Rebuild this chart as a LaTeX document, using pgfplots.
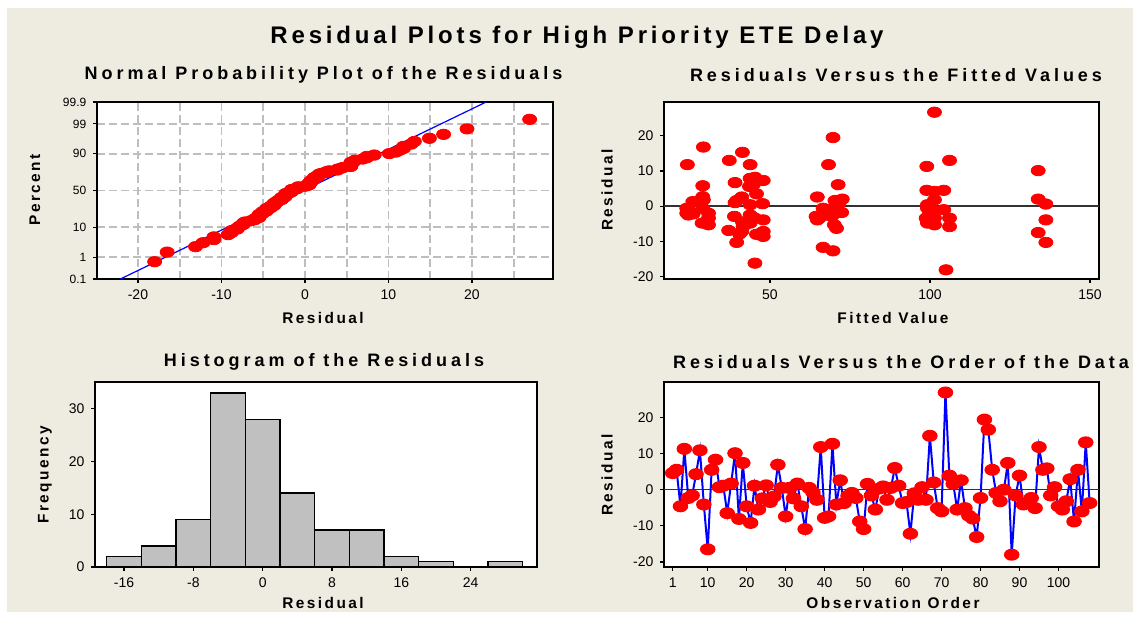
\documentclass[border=0pt]{standalone}
\usepackage{pgfplots}
\pgfplotsset{compat=1.18}
\usepackage{fontspec}
\setmainfont{Liberation Sans}
\newfontfamily\bigttl[LetterSpace=16]{Liberation Sans}
\newfontfamily\subttl[LetterSpace=22]{Liberation Sans}
\newfontfamily\labfont[LetterSpace=16]{Liberation Sans}
\definecolor{mtbbg}{RGB}{238,235,224}
\definecolor{gridgray}{RGB}{190,190,190}
\definecolor{histgray}{RGB}{192,192,192}
\definecolor{zeroline}{RGB}{50,50,50}
\definecolor{mred}{RGB}{255,0,0}
\definecolor{mblue}{RGB}{0,0,255}

\pgfplotsset{
  mtb/.style={
    scale only axis,
    axis line style={line width=0.8pt, black},
    axis background/.style={fill=white},
    tick align=outside, tick pos=left,
    major tick length=1.8pt, minor tick length=0pt,
    tick style={black, line width=0.6pt},
    tick label style={font=\fontsize{7}{8}\selectfont},
    /pgf/number format/assume math mode=true,
  },
  dots/.style={only marks, mark=*, mark size=2.6pt,
    mark options={xscale=1.35, fill=mred, draw=mred}},
}

\begin{document}
\begin{tikzpicture}
\fill[white] (0pt,0pt) rectangle (570pt,309pt);
\fill[mtbbg] (3.5pt,3pt) rectangle (566.5pt,305pt);

\node[font=\bigttl\bfseries\fontsize{12}{14}\selectfont] at (288.5pt,290.5pt) {Residual Plots for High Priority ETE Delay};
\node[font=\subttl\bfseries\fontsize{9}{11}\selectfont] at (161.75pt,271.5pt) {Normal Probability Plot of the Residuals};
\node[font=\subttl\bfseries\fontsize{9}{11}\selectfont] at (448pt,271.5pt) {Residuals Versus the Fitted Values};
\node[font=\subttl\bfseries\fontsize{9}{11}\selectfont] at (162pt,128pt) {Histogram of the Residuals};
\node[font=\subttl\bfseries\fontsize{9}{11}\selectfont] at (450.5pt,128pt) {Residuals Versus the Order of the Data};

\node[font=\labfont\bfseries\fontsize{7.7}{9}\selectfont] at (161.5pt,150pt) {Residual};
\node[font=\labfont\bfseries\fontsize{7.7}{9}\selectfont] at (446.5pt,150pt) {Fitted Value};
\node[font=\labfont\bfseries\fontsize{7.7}{9}\selectfont] at (161.5pt,7.5pt) {Residual};
\node[font=\labfont\bfseries\fontsize{7.7}{9}\selectfont] at (446.5pt,7.5pt) {Observation Order};
\node[rotate=90, font=\labfont\bfseries\fontsize{7.7}{9}\selectfont] at (17.5pt,214pt) {Percent};
\node[rotate=90, font=\labfont\bfseries\fontsize{7.7}{9}\selectfont] at (303.5pt,214pt) {Residual};
\node[rotate=90, font=\labfont\bfseries\fontsize{7.7}{9}\selectfont] at (22.5pt,71.5pt) {Frequency};
\node[rotate=90, font=\labfont\bfseries\fontsize{7.7}{9}\selectfont] at (303.5pt,71.5pt) {Residual};

% normal probability plot (y in normal scores)
\begin{axis}[mtb, at={(48.5pt,169.5pt)}, anchor=south west,
  width=228pt, height=88.5pt,
  xmin=-24.9, xmax=29.7, ymin=-3.090, ymax=3.090,
  xtick={-20,-10,0,10,20}, minor xtick={-15,-5,5,15,25},
  ytick={-3.090,-2.326,-1.2816,0,1.2816,2.326,3.090},
  yticklabels={0.1,1,10,50,90,99,99.9},
  yticklabel style={font=\fontsize{6}{7}\selectfont},
  grid=both,
  major grid style={gridgray, line width=0.9pt, dash pattern=on 4pt off 2pt},
  minor grid style={gridgray, line width=0.9pt, dash pattern=on 4pt off 2pt}]
\addplot[mblue, line width=0.6pt] coordinates {(-22.1,-3.09) (21.7,3.09)};
\addplot[dots] coordinates {
(-18.0,-2.486) (-16.5,-2.152) (-13.1,-1.961) (-12.2,-1.823) (-10.9,-1.713) (-10.9,-1.620)
(-9.2,-1.540) (-8.8,-1.468) (-8.8,-1.403) (-8.1,-1.344) (-8.0,-1.289) (-7.8,-1.238)
(-7.4,-1.189) (-7.4,-1.144) (-7.2,-1.100) (-6.5,-1.059) (-6.0,-1.019) (-6.0,-0.981)
(-5.5,-0.944) (-5.5,-0.909) (-5.5,-0.874) (-5.5,-0.841) (-5.1,-0.808) (-5.1,-0.777)
(-5.1,-0.746) (-4.6,-0.716) (-4.6,-0.686) (-4.6,-0.657) (-4.6,-0.629) (-4.1,-0.601)
(-4.1,-0.573) (-4.1,-0.546) (-3.7,-0.520) (-3.7,-0.493) (-3.7,-0.467) (-3.7,-0.442)
(-3.4,-0.416) (-3.4,-0.391) (-3.2,-0.366) (-3.2,-0.342) (-2.8,-0.317) (-2.8,-0.293)
(-2.8,-0.269) (-2.8,-0.245) (-2.4,-0.222) (-2.4,-0.198) (-2.3,-0.174) (-2.3,-0.151)
(-2.3,-0.128) (-2.3,-0.104) (-1.9,-0.081) (-1.7,-0.058) (-1.6,-0.035) (-1.6,-0.012)
(-1.6,0.012) (-1.6,0.035) (-1.0,0.058) (-0.9,0.081) (-0.9,0.104) (-0.8,0.128)
(0.0,0.151) (0.3,0.174) (0.5,0.198) (0.5,0.222) (0.5,0.245) (0.5,0.269)
(0.7,0.293) (0.7,0.317) (0.7,0.342) (0.9,0.366) (1.1,0.391) (1.1,0.416)
(1.1,0.442) (1.2,0.467) (1.6,0.493) (1.6,0.520) (1.7,0.546) (1.7,0.573)
(2.0,0.601) (2.6,0.629) (2.6,0.657) (2.9,0.686) (3.9,0.716) (3.9,0.746)
(4.3,0.777) (4.6,0.808) (5.5,0.841) (5.5,0.874) (5.5,0.909) (5.5,0.944)
(5.5,0.981) (5.9,1.019) (6.0,1.059) (6.9,1.100) (7.4,1.144) (7.4,1.189)
(8.3,1.238) (10.1,1.289) (10.9,1.344) (11.3,1.403) (11.8,1.468) (11.8,1.540)
(12.7,1.620) (13.1,1.713) (14.9,1.823) (16.6,1.961) (19.4,2.152) (26.9,2.486)};
\end{axis}

% residuals versus fitted values
\begin{axis}[mtb, at={(332pt,169.5pt)}, anchor=south west,
  width=217.5pt, height=88.5pt,
  xmin=16.9, xmax=152.8, ymin=-20.7, ymax=29.6,
  xtick={50,100,150}, ytick={-20,-10,0,10,20}]
\addplot[zeroline, line width=0.7pt] coordinates {(16.9,0) (152.8,0)};
\addplot[dots] coordinates {
(24.2,11.8) (29.2,16.8) (29.0,5.8) (29.0,2.7) (29.2,1.8) (25.9,1.3) (24.0,-0.6)
(24.0,-2.0) (24.5,-2.5) (26.0,-2.2) (29.0,-0.6) (30.8,-2.0) (30.8,-3.4) (28.8,-4.8)
(30.8,-5.3) (25.0,-1.5)
(37.3,13.0) (41.4,15.3) (43.8,11.8) (39.1,6.7) (45.3,8.2) (43.8,7.9) (47.9,7.3)
(44.8,6.1) (43.6,5.6) (45.8,3.5) (41.2,2.6) (39.6,1.6) (39.1,1.0) (47.7,0.7)
(43.8,0.4) (38.9,-2.9) (43.8,-2.5) (45.3,-3.4) (47.9,-3.9) (41.4,-4.5) (41.6,-5.8)
(43.8,-4.8) (37.1,-6.9) (41.2,-7.2) (40.5,-7.9) (45.8,-8.0) (47.9,-7.2) (47.9,-8.6)
(39.6,-10.3) (45.3,-16.2)
(69.7,19.5) (68.3,11.8) (71.3,6.1) (64.8,2.6) (70.3,1.6) (72.6,2.0) (71.6,0.9)
(66.6,-0.6) (68.7,-0.9) (64.4,-2.9) (65.4,-3.4) (67.5,-2.5) (70.1,-2.0) (72.4,-1.8)
(70.1,-5.3) (70.8,-6.3) (66.6,-11.7) (69.7,-12.7) (64.8,-3.9) (69.3,-2.9)
(101.4,26.7) (99.0,11.3) (106.1,13.0) (99.0,4.5) (101.4,4.2) (104.3,4.5) (101.4,1.8)
(99.2,0.4) (99.2,-0.6) (100.8,-1.0) (104.3,-1.0) (98.8,-3.4) (101.4,-3.4) (106.1,-3.4)
(99.2,-4.8) (101.4,-5.3) (106.1,-5.8) (99.8,-2.2) (105.0,-18.1)
(133.8,10.1) (133.8,2.0) (136.2,0.6) (136.2,-3.9) (133.8,-7.5) (136.2,-10.3)};
\end{axis}

% histogram
\begin{axis}[mtb, at={(47.5pt,25.5pt)}, anchor=south west,
  width=221pt, height=92.5pt,
  xmin=-19.35, xmax=31.66, ymin=0, ymax=35.1,
  xtick={-16,-8,0,8,16,24}, ytick={0,10,20,30}]
\addplot[ybar interval, fill=histgray, draw=black, line width=0.75pt] coordinates {
(-18,2) (-14,4) (-10,9) (-6,33) (-2,28) (2,14) (6,7) (10,7) (14,2) (18,1) (22,0) (26,1) (30,1)};
\end{axis}

% residuals versus order
\begin{axis}[mtb, at={(332pt,25.5pt)}, anchor=south west,
  width=217.5pt, height=92.5pt,
  xmin=-1.22, xmax=110.4, ymin=-21.4, ymax=29.8,
  xtick={1,10,20,30,40,50,60,70,80,90,100}, ytick={-20,-10,0,10,20}]
\addplot[zeroline, line width=0.7pt] coordinates {(-1.22,0) (110.4,0)};
\addplot[mblue, line width=1pt, mark=*, mark size=2.5pt,
  mark options={xscale=1.35, fill=mred, draw=mred}] coordinates {
(1,4.6) (2,5.5) (3,-4.6) (4,11.3) (5,-2.3) (6,-1.6) (7,4.3) (8,10.9) (9,-4.1) (10,-16.5)
(11,5.5) (12,8.3) (13,0.7) (14,1.1) (15,-6.5) (16,1.7) (17,10.1) (18,-8.1) (19,7.4) (20,-4.6)
(21,-9.2) (22,1.1) (23,-5.5) (24,-2.4) (25,1.2) (26,-3.4) (27,-1.9) (28,6.9) (29,0.5) (30,-7.4)
(31,0.5) (32,-2.4) (33,1.7) (34,-4.6) (35,-10.9) (36,0.5) (37,-0.8) (38,-2.8) (39,11.8) (40,-7.8)
(41,-7.4) (42,12.7) (43,-4.1) (44,2.6) (45,-3.7) (46,-1.7) (47,-0.9) (48,-2.3) (49,-8.8) (50,-10.9)
(51,1.6) (52,-1.6) (53,-5.5) (54,0.3) (55,0.9) (56,-2.8) (57,0.5) (58,6.0) (59,1.1) (60,-3.7)
(61,-3.4) (62,-12.2) (63,-1.0) (64,-2.8) (65,0.7) (66,-2.8) (67,14.9) (68,2.0) (69,-5.1) (70,-6.0)
(71,26.9) (72,3.9) (73,1.6) (74,-5.5) (75,2.6) (76,-5.1) (77,-7.2) (78,-8.0) (79,-13.1) (80,-2.3)
(81,19.4) (82,16.6) (83,5.5) (84,-0.9) (85,-3.2) (86,0.0) (87,7.4) (88,-18.0) (89,-1.6) (90,3.9)
(91,-4.1) (92,-3.7) (93,-2.3) (94,-5.1) (95,11.8) (96,5.5) (97,5.9) (98,-1.6) (99,0.7) (100,-4.6)
(101,-5.5) (102,-3.2) (103,2.9) (104,-8.8) (105,5.5) (106,-6.0) (107,13.1) (108,-3.7)};
\end{axis}
\end{tikzpicture}
\end{document}
